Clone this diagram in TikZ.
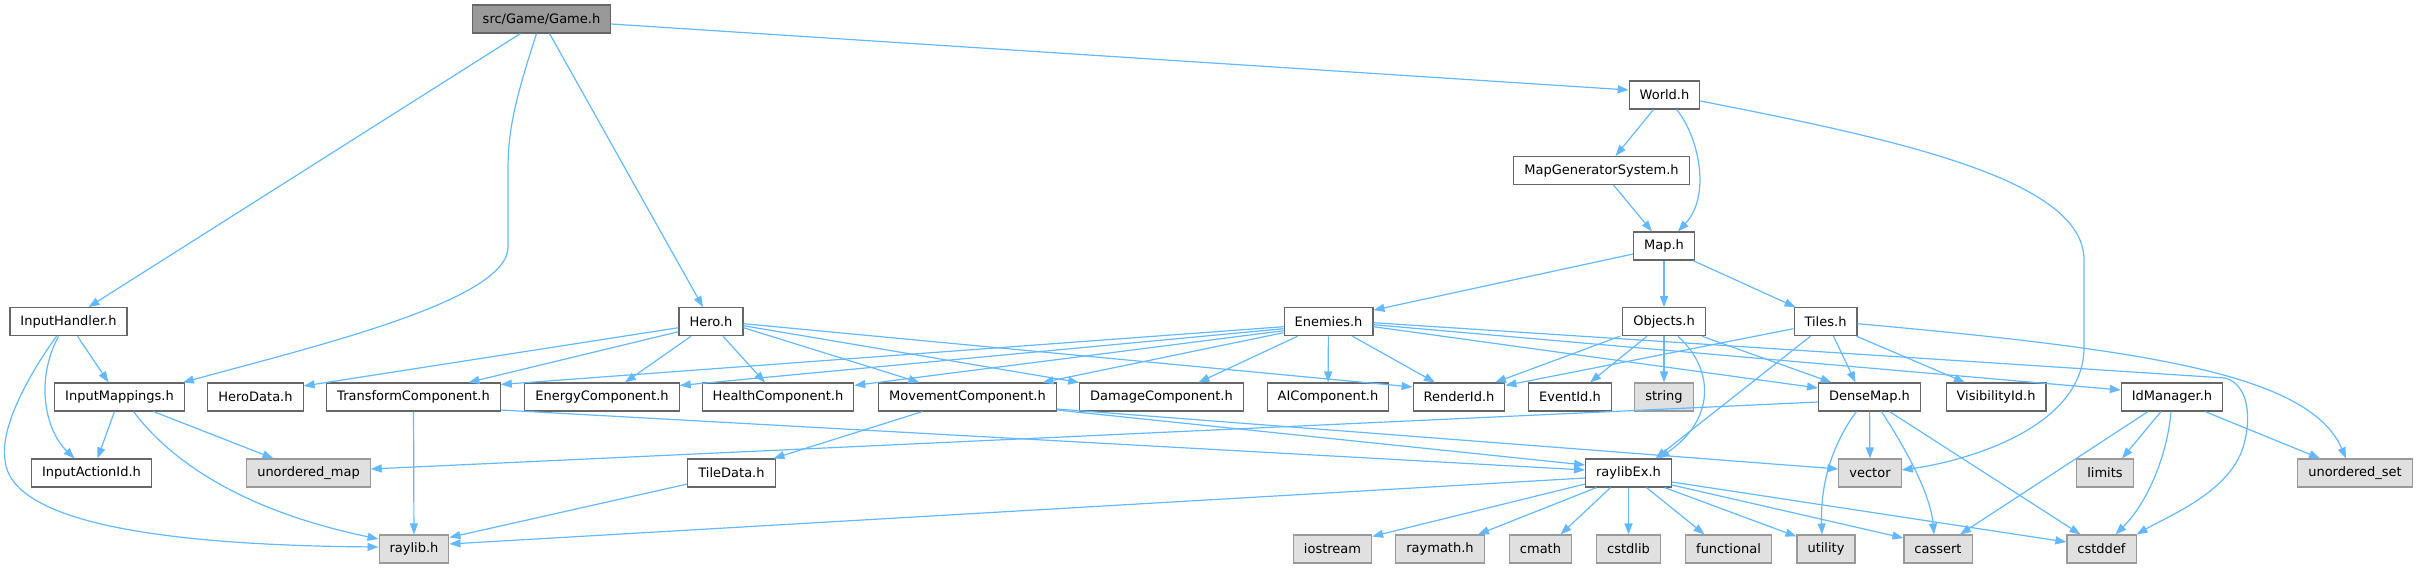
\documentclass[tikz,border=0pt]{standalone}
\usepackage{fontspec}
\setmainfont{DejaVu Sans}
\usetikzlibrary{arrows.meta,calc}

\definecolor{edgeblue}{HTML}{63B8FF}
\definecolor{boxline}{HTML}{666666}
\definecolor{sysline}{HTML}{999999}
\definecolor{sysfill}{HTML}{E0E0E0}
\definecolor{rootfill}{HTML}{999999}

\begin{document}
\begin{tikzpicture}[x=1pt,y=-1pt,
    hdr/.style={draw=boxline,fill=white,line width=1.1pt,minimum height=28pt,
      inner xsep=10.5pt,inner ysep=0pt,font=\fontsize{13}{15}\selectfont},
    sys/.style={hdr,draw=sysline,fill=sysfill},
    root/.style={hdr,fill=rootfill},
    inc/.style={-{Triangle[length=11pt,width=8pt]},draw=edgeblue,line width=1.2pt}]
    \useasboundingbox (0,0) rectangle (2418,568);
    % Kopf und Welt
    \node[root] (game) at (541.5,19) {src/Game/Game.h};
    \node[hdr] (world) at (1664.5,95) {World.h};
    \node[hdr] (mapgen) at (1601.5,170.5) {MapGeneratorSystem.h};
    \node[hdr] (map) at (1664,246) {Map.h};
    % Reihe 4
    \node[hdr] (inputhandler) at (68.5,321.7) {InputHandler.h};
    \node[hdr] (hero) at (711,321.7) {Hero.h};
    \node[hdr] (enemies) at (1328.5,321.7) {Enemies.h};
    \node[hdr] (objects) at (1664,321.7) {Objects.h};
    \node[hdr] (tiles) at (1825.5,321.7) {Tiles.h};
    % Reihe 5
    \node[hdr] (inputmappings) at (119.5,397) {InputMappings.h};
    \node[hdr] (herodata) at (255.5,397) {HeroData.h};
    \node[hdr] (transform) at (413.5,397) {TransformComponent.h};
    \node[hdr] (energy) at (602,397) {EnergyComponent.h};
    \node[hdr] (health) at (778,397) {HealthComponent.h};
    \node[hdr] (movement) at (967.5,397) {MovementComponent.h};
    \node[hdr] (damage) at (1161.5,397) {DamageComponent.h};
    \node[hdr] (aicomp) at (1328,397) {AIComponent.h};
    \node[hdr] (renderid) at (1459,397) {RenderId.h};
    \node[hdr] (eventid) at (1570,397) {EventId.h};
    \node[sys] (string) at (1664,397) {string};
    \node[hdr] (densemap) at (1869.5,397) {DenseMap.h};
    \node[hdr] (visibilityid) at (1996,397) {VisibilityId.h};
    \node[hdr] (idmanager) at (2172,397) {IdManager.h};
    % Reihe 6
    \node[hdr] (inputactionid) at (91.5,473) {InputActionId.h};
    \node[sys] (unorderedmap) at (308.5,473) {unordered\_map};
    \node[hdr] (tiledata) at (731.5,473) {TileData.h};
    \node[hdr] (raylibex) at (1628.5,473) {raylibEx.h};
    \node[sys] (vector) at (1870,473) {vector};
    \node[sys] (limits) at (2105,473) {limits};
    \node[sys] (unorderedset) at (2355,473) {unordered\_set};
    % Reihe 7: System-Header
    \node[sys] (raylib) at (414,549) {raylib.h};
    \node[sys] (iostream) at (1332.5,549) {iostream};
    \node[sys] (raymath) at (1440,549) {raymath.h};
    \node[sys] (cmath) at (1540.5,549) {cmath};
    \node[sys] (cstdlib) at (1628.5,549) {cstdlib};
    \node[sys] (functional) at (1728.5,549) {functional};
    \node[sys] (utility) at (1826,549) {utility};
    \node[sys] (cassert) at (1938,549) {cassert};
    \node[sys] (cstddef) at (2101.5,549) {cstddef};

    % Game.h
    \draw[inc] ([xshift=-21]game.south) -- ([xshift=20]inputhandler.north);
    \draw[inc] ([xshift=-5]game.south) .. controls (515,100) and (508,130) .. (508,170) -- (508,247)
      .. controls (508,300) and (320,345) .. ([xshift=-2]inputmappings.north east);
    \draw[inc] ([xshift=8]game.south) -- ([xshift=-8]hero.north);
    \draw[inc] ([yshift=-5]game.east) -- ([yshift=5]world.west);
    % World.h und Map.h
    \draw[inc] ([xshift=-11]world.south) -- ([xshift=14]mapgen.north);
    \draw[inc] ([xshift=12]world.south) .. controls (1698,135) and (1712,195) .. ([xshift=14]map.north);
    \draw[inc] ([yshift=-6]world.east) .. controls (1900,140) and (2084,180) .. (2084,260) -- (2084,347)
      .. controls (2084,430) and (1960,462) .. ([yshift=3]vector.east);
    \draw[inc] ([xshift=12]mapgen.south) -- ([xshift=-12]map.north);
    \draw[inc] ([yshift=-8]map.west) -- ([yshift=-3]enemies.north east);
    \draw[inc] (map) -- (objects);
    \draw[inc] ([xshift=29]map.south) -- ([xshift=-30]tiles.north);
    % Eingabe
    \draw[inc] ([xshift=9]inputhandler.south) -- ([xshift=-11]inputmappings.north);
    \draw[inc] ([xshift=-10]inputhandler.south) .. controls (35,380) and (45,430) .. ([xshift=-17]inputactionid.north);
    \draw[inc] ([xshift=-12]inputhandler.south) .. controls (25,380) and (0,430) .. (5,460)
      .. controls (10,520) and (150,545) .. ([yshift=2]raylib.west);
    \draw[inc] ([xshift=-5]inputmappings.south) -- ([xshift=6]inputactionid.north);
    \draw[inc] ([xshift=34]inputmappings.south) -- ([xshift=-35]unorderedmap.north);
    \draw[inc] ([xshift=14]inputmappings.south) .. controls (170,460) and (240,510) .. ([yshift=10]raylib.west);
    % Hero.h
    \draw[inc] ([yshift=-6]hero.west) -- ([yshift=11]herodata.east);
    \draw[inc] ([yshift=-10]hero.west) -- ([xshift=55]transform.north);
    \draw[inc] ([xshift=-20]hero.south) -- ([xshift=23]energy.north);
    \draw[inc] ([xshift=12]hero.south) -- ([xshift=-13]health.north);
    \draw[inc] ([yshift=-6]hero.east) -- ([xshift=-48]movement.north);
    \draw[inc] ([yshift=-4]hero.east) -- (damage.north west);
    \draw[inc] ([yshift=-2]hero.east) -- ([yshift=10]renderid.west);
    % Enemies.h
    \draw[inc] ([yshift=-5]enemies.west) -- ([yshift=-2]transform.north east);
    \draw[inc] ([yshift=-7]enemies.west) -- ([yshift=-3]energy.north east);
    \draw[inc] ([yshift=-9]enemies.west) -- ([yshift=-3]health.north east);
    \draw[inc] ([yshift=-11]enemies.west) -- ([xshift=75]movement.north);
    \draw[inc] ([xshift=-31]enemies.south) -- ([xshift=37]damage.north);
    \draw[inc] (enemies) -- (aicomp);
    \draw[inc] ([xshift=24]enemies.south) -- ([xshift=-24]renderid.north);
    \draw[inc] ([yshift=-5]enemies.east) -- ([yshift=9]densemap.west);
    \draw[inc] ([yshift=-3]enemies.east) -- ([yshift=7]idmanager.west);
    \draw[inc] ([yshift=-1]enemies.east) -- (2225,378) .. controls (2250,385) and (2250,420) .. (2245,440)
      .. controls (2235,490) and (2170,515) .. (cstddef.north east);
    % Objects.h
    \draw[inc] ([xshift=-44]objects.south) -- ([xshift=36]renderid.north);
    \draw[inc] ([xshift=-17]objects.south) -- ([xshift=20]eventid.north);
    \draw[inc] (objects) -- (string);
    \draw[inc] ([xshift=38]objects.south) -- ([xshift=-38]densemap.north);
    \draw[inc] ([xshift=14]objects.south) .. controls (1715,370) and (1715,420) .. ([xshift=30]raylibex.north);
    % Tiles.h
    \draw[inc] ([yshift=-7]tiles.west) -- ([yshift=-3]renderid.north east);
    \draw[inc] ([xshift=8]tiles.south) -- ([xshift=-14]densemap.north);
    \draw[inc] ([xshift=31]tiles.south) -- ([xshift=-31]visibilityid.north);
    \draw[inc] ([xshift=-15]tiles.south) -- ([xshift=27]raylibex.north);
    \draw[inc] ([yshift=-2]tiles.east) .. controls (2150,350) and (2310,375) .. ([xshift=-9]unorderedset.north);
    % Komponenten
    \draw[inc] (transform) -- (raylib);
    \draw[inc] ([yshift=-13]transform.east) -- ([yshift=3]raylibex.west);
    \draw[inc] ([xshift=-45]movement.south) -- ([xshift=42]tiledata.north);
    \draw[inc] ([yshift=-13]movement.east) -- ([yshift=8]raylibex.west);
    \draw[inc] ([yshift=-12]movement.east) -- ([yshift=4]vector.west);
    \draw[inc] ([yshift=-11]tiledata.west) -- ([yshift=-3]raylib.north east);
    % DenseMap.h und IdManager.h
    \draw[inc] ([yshift=-5]densemap.west) -- ([yshift=4]unorderedmap.east);
    \draw[inc] (densemap) -- (vector);
    \draw[inc] ([xshift=-13]densemap.south) .. controls (1835,440) and (1820,480) .. ([xshift=-4]utility.north);
    \draw[inc] ([xshift=12]densemap.south) .. controls (1900,440) and (1930,490) .. ([xshift=-4]cassert.north);
    \draw[inc] ([xshift=20]densemap.south) -- ([xshift=-21]cstddef.north);
    \draw[inc] ([xshift=-24]idmanager.south) -- ([xshift=22]cassert.north);
    \draw[inc] ([xshift=-11]idmanager.south) -- ([xshift=17]limits.north);
    \draw[inc] ([xshift=-1]idmanager.south) .. controls (2168,450) and (2150,500) .. ([xshift=14]cstddef.north);
    \draw[inc] ([xshift=33]idmanager.south) -- ([xshift=-35]unorderedset.north);
    % raylibEx.h
    \draw[inc] ([yshift=-5]raylibex.west) -- ([yshift=5]raylib.east);
    \draw[inc] ([yshift=-11]raylibex.west) -- ([yshift=-2]iostream.north east);
    \draw[inc] ([xshift=-32]raylibex.south) -- ([xshift=38]raymath.north);
    \draw[inc] ([xshift=-18]raylibex.south) -- ([xshift=20]cmath.north);
    \draw[inc] (raylibex) -- (cstdlib);
    \draw[inc] ([xshift=18]raylibex.south) -- ([xshift=-24]functional.north);
    \draw[inc] ([xshift=36]raylibex.south) -- ([yshift=-2]utility.north west);
    \draw[inc] ([yshift=-12]raylibex.east) -- ([yshift=11]cassert.west);
    \draw[inc] ([yshift=-9]raylibex.east) -- ([yshift=7]cstddef.west);
\end{tikzpicture}
\end{document}
